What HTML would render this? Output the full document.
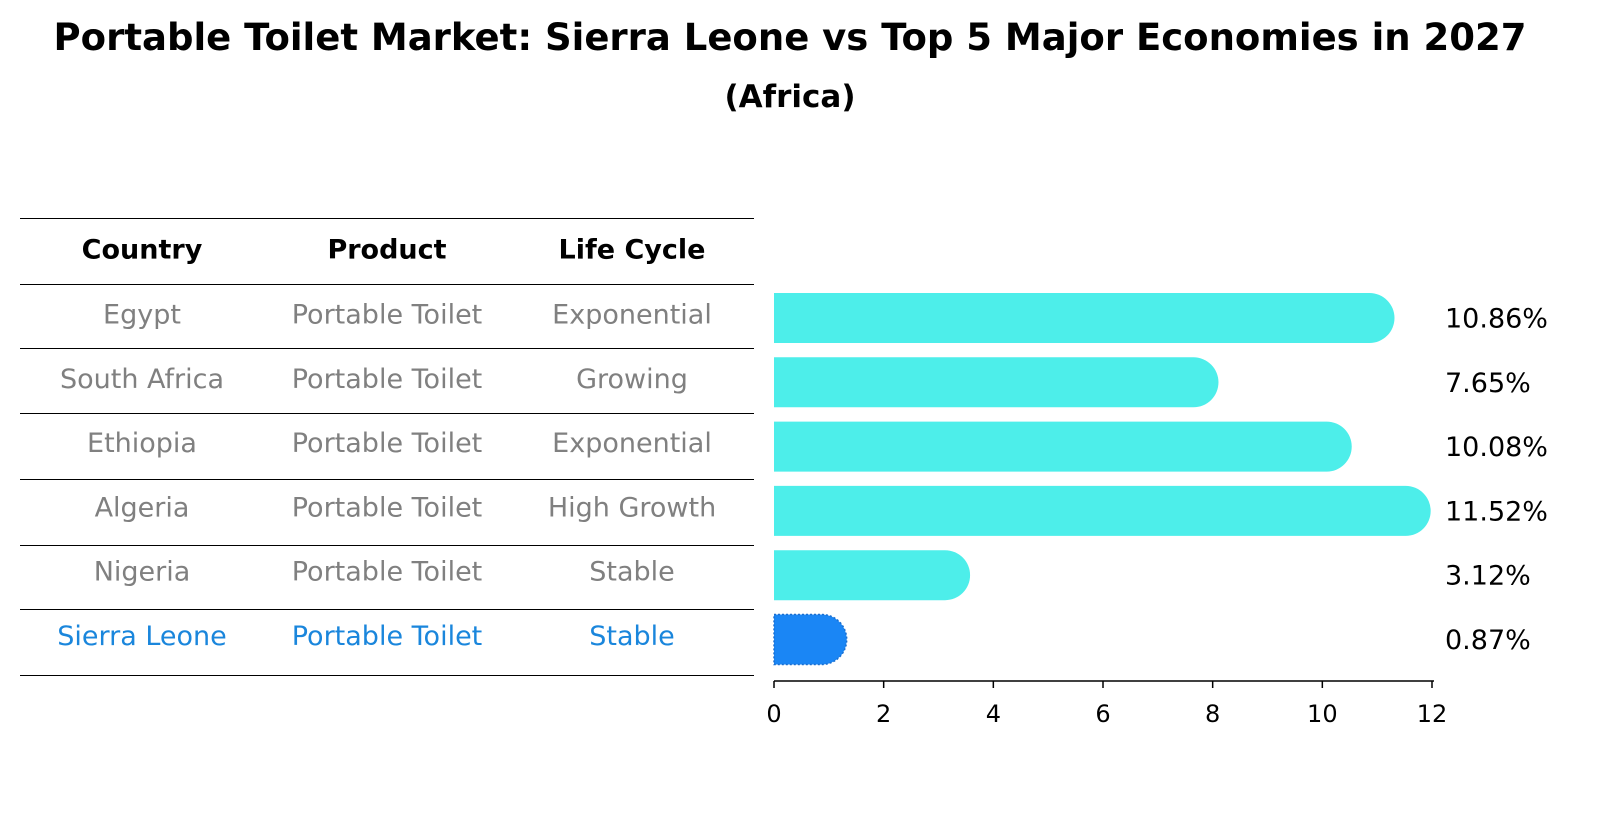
<!DOCTYPE html>
<html><head><meta charset="utf-8"><style>
body{margin:0;background:#fff;font-family:"DejaVu Sans","Liberation Sans",sans-serif}
</style></head><body>
<svg width="1604" height="823" xmlns="http://www.w3.org/2000/svg" style="font-family:'DejaVu Sans','Liberation Sans',sans-serif">
<text x="790" y="50" text-anchor="middle" font-size="37" font-weight="bold">Portable Toilet Market: Sierra Leone vs Top 5 Major Economies in 2027</text>
<text x="790" y="107" text-anchor="middle" font-size="31" font-weight="bold">(Africa)</text>
<g id="table"></g>
<g id="bars"></g>
<g id="axis"></g>
</svg>
<script>
const countries=["Egypt","South Africa","Ethiopia","Algeria","Nigeria","Sierra Leone"];
const products=["Portable Toilet","Portable Toilet","Portable Toilet","Portable Toilet","Portable Toilet","Portable Toilet"];
const lifeCycles=["Exponential","Growing","Exponential","High Growth","Stable","Stable"];
const values=[10.86,7.65,10.08,11.52,3.12,0.87];
const ticks=[0,2,4,6,8,10,12];
const NS="http://www.w3.org/2000/svg";
function mk(t,a,p){const e=document.createElementNS(NS,t);for(const k in a)e.setAttribute(k,a[k]);p.appendChild(e);return e;}
const x0=774,sc=(1432-774)/12;
const xs=v=>x0+v*sc;
const rowY=i=>318+i*64.3;
const tbl=document.getElementById('table'),bars=document.getElementById('bars'),ax=document.getElementById('axis');
const colX=[142,387,632];
const hdr=["Country","Product","Life Cycle"];
const lines=[218,284,348,413,479,545,609,675];
lines.forEach(y=>{const l=mk('line',{x1:20,x2:754,y1:y+0.5,y2:y+0.5,stroke:'#000','stroke-width':1},tbl);
});
hdr.forEach((h,j)=>{const t=mk('text',{x:colX[j],y:251,'text-anchor':'middle','dominant-baseline':'middle','font-size':27,'font-weight':'bold'},tbl);t.textContent=h;
});
countries.forEach((c,i)=>{
  const col=i===countries.length-1?'#1a86dc':'#808080';
  [c,products[i],lifeCycles[i]].forEach((s,j)=>{
    const t=mk('text',{x:colX[j],y:rowY(i)-2,'text-anchor':'middle','font-size':27,fill:col,'dominant-baseline':'middle'},tbl);t.textContent=s;
    
  });
  const y=rowY(i),h=50,r=25,xe=xs(values[i]);
  const hl=i===countries.length-1;
  const p=mk('path',{d:`M${x0},${y-h/2} L${xe},${y-h/2} A${r},${r} 0 0 1 ${xe},${y+h/2} L${x0},${y+h/2} Z`,fill:hl?'#1a86f5':'#4deeea',stroke:hl?'#1a6fd0':'none','stroke-dasharray':hl?'2,2':'none','stroke-width':hl?1.5:0},bars);
  
  const t=mk('text',{x:1445,y:y+2,'font-size':27,'dominant-baseline':'middle'},bars);t.textContent=values[i].toFixed(2)+'%';
  
});
const al=mk('line',{x1:x0,x2:1434,y1:681,y2:681,stroke:'#000','stroke-width':1.5},ax);

ticks.forEach(v=>{const l=mk('line',{x1:xs(v),x2:xs(v),y1:681,y2:688,stroke:'#000','stroke-width':1.5},ax);

const t=mk('text',{x:xs(v),y:722,'text-anchor':'middle','font-size':24},ax);t.textContent=v;
});
</script>
</body></html>
